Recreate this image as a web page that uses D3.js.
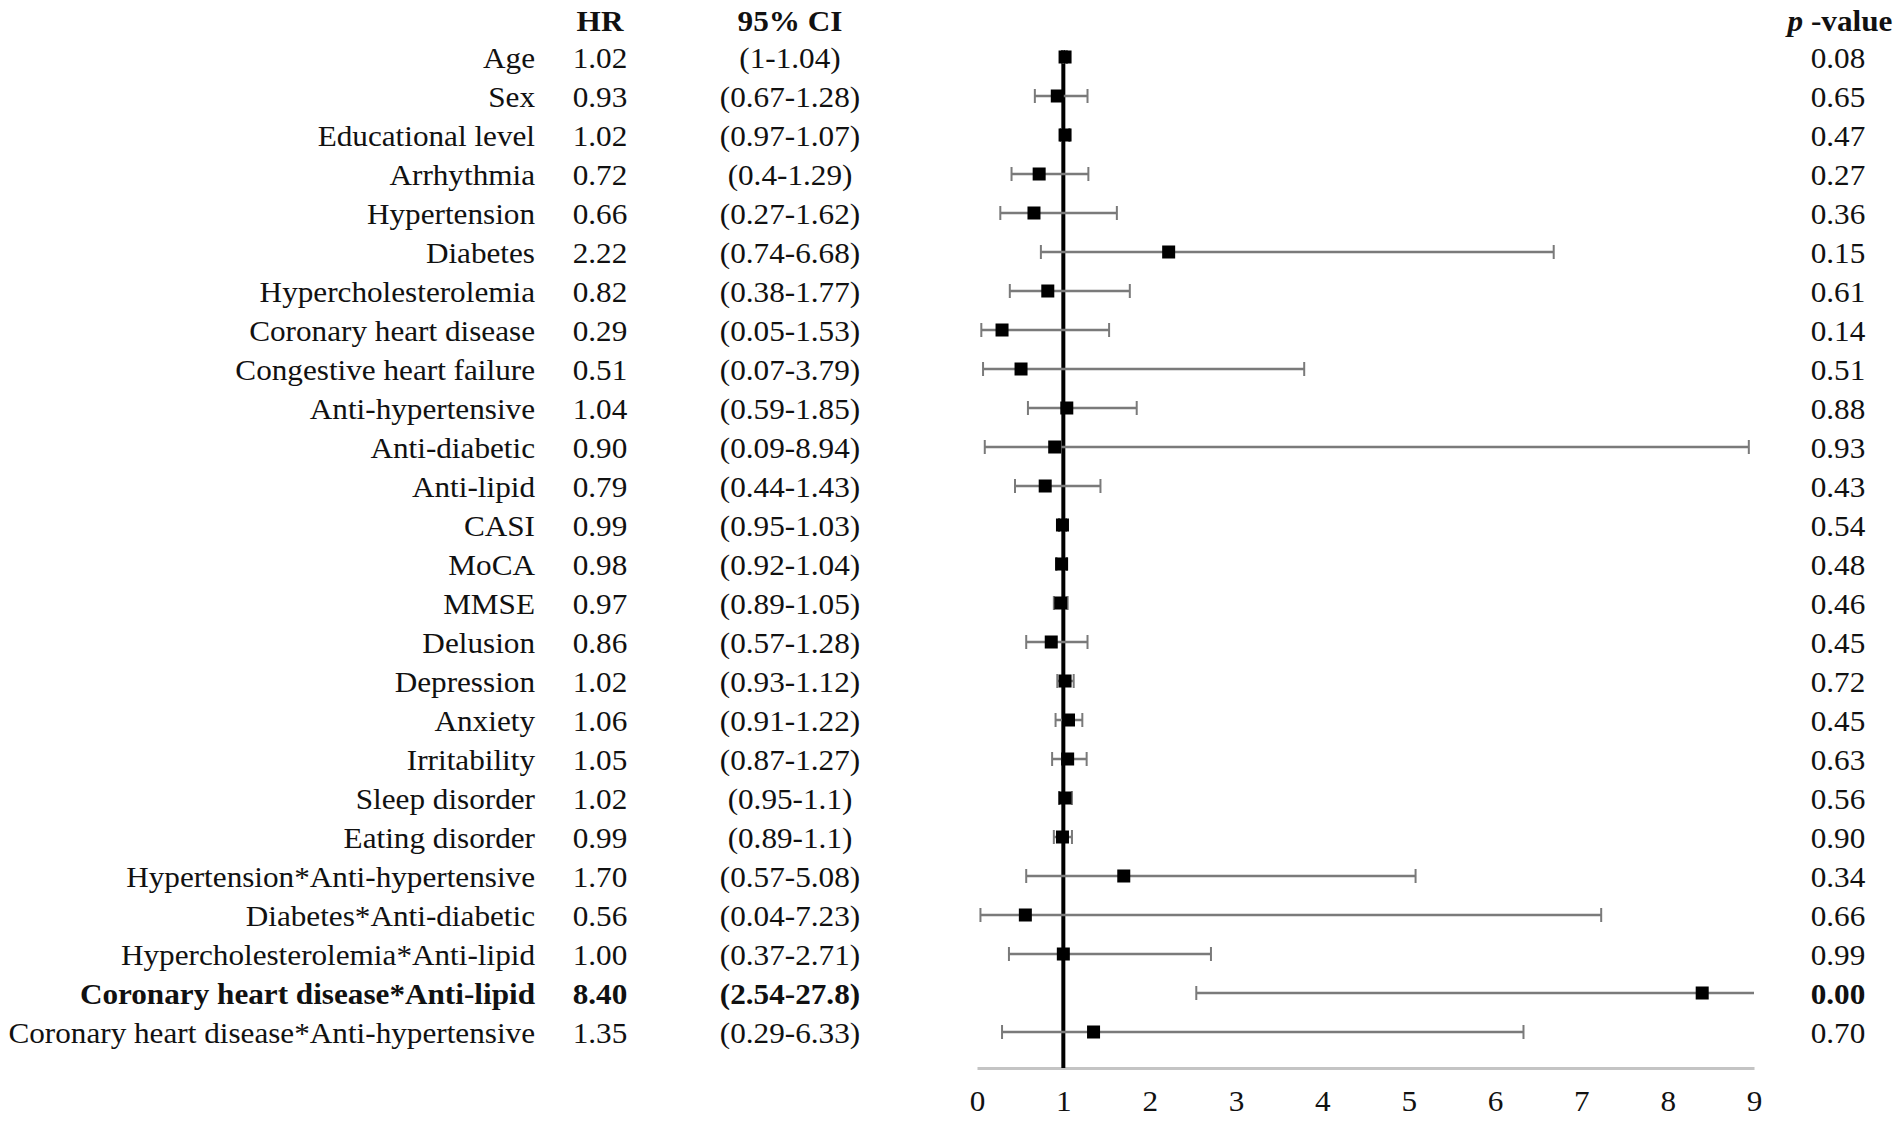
<!DOCTYPE html>
<html lang="en">
<head>
  <meta charset="UTF-8">
  <title>Forest plot</title>
  <script src="https://d3js.org/d3.v7.min.js"></script>
  <style>
    body { margin: 0; background: #fff; }
    text { font-family: "Liberation Serif", "Times New Roman", serif; fill: #111; }
  </style>
</head>
<body>
  <script>
    var labels = ["Age", "Sex", "Educational level", "Arrhythmia", "Hypertension", "Diabetes",
      "Hypercholesterolemia", "Coronary heart disease", "Congestive heart failure",
      "Anti-hypertensive", "Anti-diabetic", "Anti-lipid", "CASI", "MoCA", "MMSE", "Delusion",
      "Depression", "Anxiety", "Irritability", "Sleep disorder", "Eating disorder",
      "Hypertension*Anti-hypertensive", "Diabetes*Anti-diabetic",
      "Hypercholesterolemia*Anti-lipid", "Coronary heart disease*Anti-lipid",
      "Coronary heart disease*Anti-hypertensive"];
    var hr = [1.02, 0.93, 1.02, 0.72, 0.66, 2.22, 0.82, 0.29, 0.51, 1.04, 0.90, 0.79, 0.99,
      0.98, 0.97, 0.86, 1.02, 1.06, 1.05, 1.02, 0.99, 1.70, 0.56, 1.00, 8.40, 1.35];
    var ciLow = [1, 0.67, 0.97, 0.4, 0.27, 0.74, 0.38, 0.05, 0.07, 0.59, 0.09, 0.44, 0.95,
      0.92, 0.89, 0.57, 0.93, 0.91, 0.87, 0.95, 0.89, 0.57, 0.04, 0.37, 2.54, 0.29];
    var ciHigh = [1.04, 1.28, 1.07, 1.29, 1.62, 6.68, 1.77, 1.53, 3.79, 1.85, 8.94, 1.43, 1.03,
      1.04, 1.05, 1.28, 1.12, 1.22, 1.27, 1.1, 1.1, 5.08, 7.23, 2.71, 27.8, 6.33];
    var pValues = [0.08, 0.65, 0.47, 0.27, 0.36, 0.15, 0.61, 0.14, 0.51, 0.88, 0.93, 0.43, 0.54,
      0.48, 0.46, 0.45, 0.72, 0.45, 0.63, 0.56, 0.90, 0.34, 0.66, 0.99, 0.00, 0.70];
    var boldRows = ["Coronary heart disease*Anti-lipid"];
    var xTicks = [0, 1, 2, 3, 4, 5, 6, 7, 8, 9];

    var width = 1902, height = 1124;
    var fontSize = 30;
    var stretch = 1.04;   // source text is a touch wide
    var fmt = d3.format(".2f");

    var rows = labels.map(function(d, i) {
      return { label: d, hr: hr[i], lo: ciLow[i], hi: ciHigh[i], p: pValues[i],
               bold: boldRows.indexOf(d) >= 0 };
    });

    var svg = d3.select("body").append("svg")
      .attr("width", width)
      .attr("height", height);

    var x = d3.scaleLinear().domain([0, 9]).range([977, 1754]);
    var y = d3.scalePoint().domain(labels).range([57, 1032]);
    var axisY = 1068;

    // columns
    var colLabel = 535, colHR = 600, colCI = 790, colP = 1838;

    function addText(g, px, anchor, txt) {
      g.append("text")
        .attr("transform", d => "translate(" + px + "," + y(d.label) + ") scale(" + stretch + ",1)")
        .attr("dy", "0.36em")
        .attr("text-anchor", anchor)
        .style("font-size", fontSize + "px")
        .style("font-weight", d => d.bold ? "bold" : "normal")
        .text(txt);
    }

    var rowG = svg.selectAll(".row").data(rows).enter().append("g").attr("class", "row");
    addText(rowG, colLabel, "end", d => d.label);
    addText(rowG, colHR, "middle", d => fmt(d.hr));
    addText(rowG, colCI, "middle", d => "(" + d.lo + "-" + d.hi + ")");
    addText(rowG, colP, "middle", d => fmt(d.p));

    // headers
    function header(px, txt) {
      return svg.append("text")
        .attr("transform", "translate(" + px + ",20) scale(" + stretch + ",1)")
        .attr("dy", "0.35em")
        .attr("text-anchor", "middle")
        .style("font-size", fontSize + "px")
        .style("font-weight", "bold")
        .text(txt);
    }
    header(colHR, "HR");
    header(colCI, "95% CI");
    var ph = header(colP + 2, "");
    ph.append("tspan").style("font-style", "italic").text("p");
    ph.append("tspan").text(" -value");

    // axis
    var axis = svg.append("g")
      .attr("transform", "translate(0," + axisY + ")")
      .call(d3.axisBottom(x).tickValues(xTicks).tickSize(0).tickPadding(22).tickFormat(d3.format("d")));
    axis.select(".domain").attr("stroke", "#c4c4c4").attr("stroke-width", 3);
    axis.selectAll(".tick text")
      .style("font-family", "'Liberation Serif', serif")
      .style("font-size", fontSize + "px")
      .attr("fill", "#111")
      .attr("transform", "scale(" + stretch + ",1)")
      .attr("x", 0);

    // reference line at HR = 1
    svg.append("line")
      .attr("x1", x(1)).attr("x2", x(1))
      .attr("y1", y(labels[0]) - 7).attr("y2", axisY)
      .attr("stroke", "#000")
      .attr("stroke-width", 4);

    // error bars
    var capH = 7;
    var bars = svg.selectAll(".ci").data(rows).enter().append("g").attr("class", "ci");
    bars.append("line")
      .attr("x1", d => x(Math.max(0, d.lo)))
      .attr("x2", d => x(Math.min(9, d.hi)))
      .attr("y1", d => y(d.label)).attr("y2", d => y(d.label))
      .attr("stroke", "#7a7a7a").attr("stroke-width", 2.5);
    bars.append("line")
      .attr("x1", d => x(d.lo)).attr("x2", d => x(d.lo))
      .attr("y1", d => y(d.label) - capH).attr("y2", d => y(d.label) + capH)
      .attr("stroke", "#7a7a7a").attr("stroke-width", 2);
    bars.filter(d => d.hi <= 9).append("line")
      .attr("x1", d => x(d.hi)).attr("x2", d => x(d.hi))
      .attr("y1", d => y(d.label) - capH).attr("y2", d => y(d.label) + capH)
      .attr("stroke", "#7a7a7a").attr("stroke-width", 2);

    // point estimates
    var sq = 13;
    svg.selectAll(".pt").data(rows).enter().append("rect")
      .attr("class", "pt")
      .attr("x", d => x(d.hr) - sq / 2)
      .attr("y", d => y(d.label) - sq / 2)
      .attr("width", sq).attr("height", sq)
      .attr("fill", "#000");
  </script>
</body>
</html>
